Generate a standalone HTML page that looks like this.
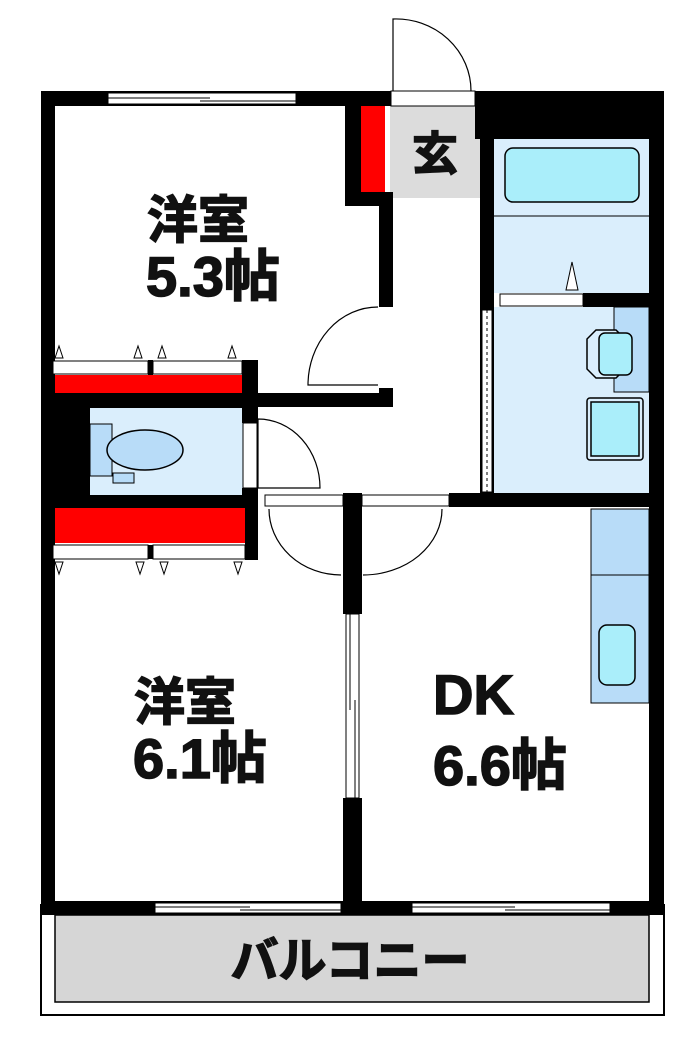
<!DOCTYPE html>
<html><head><meta charset="utf-8"><style>
html,body{margin:0;padding:0;background:#fff;width:700px;height:1056px;overflow:hidden}
svg{display:block}
text{font-family:"Liberation Sans","Noto Sans CJK JP",sans-serif;font-weight:bold;fill:#111;stroke:#111;stroke-width:1.5}
</style></head><body>
<svg width="700" height="1056" viewBox="0 0 700 1056" xmlns="http://www.w3.org/2000/svg">
<!-- balcony -->
<rect x="41" y="905" width="623" height="110" fill="#fff" stroke="#000" stroke-width="2"/>
<rect x="55" y="915" width="594" height="87" fill="#d6d6d6" stroke="#000" stroke-width="1.5"/>
<text x="350" y="977" font-size="48" text-anchor="middle">バルコニー</text>

<!-- genkan -->
<rect x="390" y="106" width="90" height="92" fill="#dcdcdc"/>
<text x="435" y="170" font-size="46" text-anchor="middle">玄</text>

<!-- bath -->
<rect x="494" y="139" width="155" height="154" fill="#daeefc"/>
<rect x="505" y="148" width="134" height="54" rx="8" fill="#aaeefa" stroke="#000" stroke-width="1.5"/>
<line x1="494" y1="216" x2="649" y2="216" stroke="#000" stroke-width="1"/>
<polygon points="566,290 572,262 578,290" fill="#fff" stroke="#000" stroke-width="1"/>
<!-- washroom -->
<rect x="494" y="307" width="155" height="186" fill="#daeefc"/>
<rect x="614" y="307" width="35" height="85" fill="#b8dcf8" stroke="#000" stroke-width="1"/>
<path d="M596,330 h20 l9,9 v30 l-9,9 h-20 l-9,-9 v-30 z" fill="#daeefc" stroke="#000" stroke-width="1.5"/>
<rect x="599" y="333" width="33" height="42" rx="6" fill="#aaeefa" stroke="#000" stroke-width="1.5"/>
<rect x="587" y="398" width="56" height="62" rx="3" fill="#daeefc" stroke="#000" stroke-width="1.5"/>
<rect x="591" y="402" width="48" height="54" fill="#aaeefa" stroke="#000" stroke-width="1.5"/>
<!-- toilet -->
<rect x="90" y="408" width="155" height="87" fill="#daeefc"/>
<rect x="90" y="424" width="22" height="52" fill="#b8dcf8" stroke="#000" stroke-width="1"/>
<ellipse cx="145" cy="450" rx="38" ry="20" fill="#b8dcf8" stroke="#000" stroke-width="1.5"/>
<rect x="113" y="473" width="21" height="10" fill="#b8dcf8" stroke="#000" stroke-width="1"/>

<!-- kitchen counter -->
<rect x="591" y="509" width="58" height="194" fill="#b8dcf8" stroke="#000" stroke-width="1"/>
<line x1="591" y1="575" x2="649" y2="575" stroke="#000" stroke-width="1"/>
<rect x="599" y="625" width="36" height="60" rx="8" fill="#aaeefa" stroke="#000" stroke-width="1.5"/>

<!-- red closets -->
<rect x="361" y="106" width="24" height="86" fill="#f00"/>
<rect x="55" y="375" width="187" height="18" fill="#f00"/>
<rect x="55" y="508" width="190" height="35" fill="#f00"/>

<!-- walls -->
<g fill="#000">
<rect x="41" y="91" width="352" height="15"/>
<rect x="475" y="91" width="189" height="48"/>
<rect x="41" y="91" width="14" height="824"/>
<rect x="649" y="91" width="15" height="824"/>
<rect x="41" y="901" width="623" height="14"/>
<rect x="345" y="106" width="16" height="100"/>
<rect x="345" y="192" width="48" height="14"/>
<rect x="379" y="192" width="14" height="115"/>
<rect x="379" y="388" width="14" height="19"/>
<rect x="245" y="393" width="148" height="14"/>
<rect x="55" y="393" width="190" height="15"/>
<rect x="55" y="393" width="35" height="115"/>
<rect x="242" y="360" width="16" height="63"/>
<rect x="242" y="488" width="16" height="20"/>
<rect x="245" y="495" width="13" height="65"/>
<rect x="55" y="495" width="203" height="13"/>
<rect x="480" y="139" width="14" height="355"/>
<rect x="583" y="293" width="66" height="14"/>
<rect x="449" y="493" width="200" height="14"/>
<rect x="343" y="493" width="19" height="121"/>
<rect x="343" y="798" width="19" height="103"/>
<rect x="148" y="360" width="5" height="15"/>
<rect x="148" y="545" width="5" height="14"/>
</g>

<!-- windows -->
<g fill="#fff" stroke="#000" stroke-width="1">
<rect x="108" y="93" width="188" height="11"/>
<line x1="108" y1="98" x2="210" y2="98"/><line x1="200" y1="101" x2="296" y2="101"/>
<rect x="155" y="903" width="186" height="10"/>
<line x1="155" y1="907" x2="250" y2="907"/><line x1="240" y1="910" x2="341" y2="910"/>
<rect x="412" y="903" width="198" height="10"/>
<line x1="412" y1="907" x2="515" y2="907"/><line x1="505" y1="910" x2="610" y2="910"/>
<rect x="346" y="614" width="13" height="184"/>
<line x1="350" y1="614" x2="350" y2="710"/><line x1="355" y1="700" x2="355" y2="798"/>
<rect x="500" y="294" width="83" height="12"/>
<rect x="482" y="310" width="10" height="182"/>
<line x1="487" y1="310" x2="487" y2="492" stroke-dasharray="3,3"/>
<rect x="53" y="361" width="95" height="13"/><rect x="153" y="361" width="89" height="13"/>
<rect x="53" y="545" width="95" height="14"/><rect x="153" y="545" width="92" height="14"/>
<rect x="265" y="495" width="78" height="11"/><rect x="362" y="495" width="87" height="11"/>
<rect x="243" y="423" width="14" height="65"/>
<rect x="391" y="91" width="84" height="15"/>
</g>
<g fill="#fff" stroke="#000" stroke-width="1">
<polygon points="55,358 59,346 63,358"/><polygon points="134,358 138,346 142,358"/>
<polygon points="158,358 162,346 166,358"/><polygon points="228,358 232,346 236,358"/>
<polygon points="55,562 59,574 63,562"/><polygon points="136,562 140,574 144,562"/>
<polygon points="160,562 164,574 168,562"/><polygon points="234,562 238,574 242,562"/>
</g>

<!-- doors -->
<g fill="none" stroke="#000" stroke-width="1.2">
<path d="M393,91 V19 A75,72 0 0 1 471,91"/>
<path d="M378,385 H308 A70,78 0 0 1 378,307"/>
<path d="M258,488 V419 A62,69 0 0 1 320,488 H258"/>
<path d="M341,575 A72,66 0 0 1 269,509"/>
<path d="M363,575 A79,66 0 0 0 442,509"/>
</g>

<!-- labels -->
<text x="147" y="238" font-size="51">洋室</text>
<text x="146" y="296" font-size="56">5.3帖</text>
<text x="134" y="720" font-size="51">洋室</text>
<text x="133" y="778" font-size="56">6.1帖</text>
<text x="433" y="714" font-size="56">DK</text>
<text x="433" y="785" font-size="56">6.6帖</text>
</svg>
</body></html>
